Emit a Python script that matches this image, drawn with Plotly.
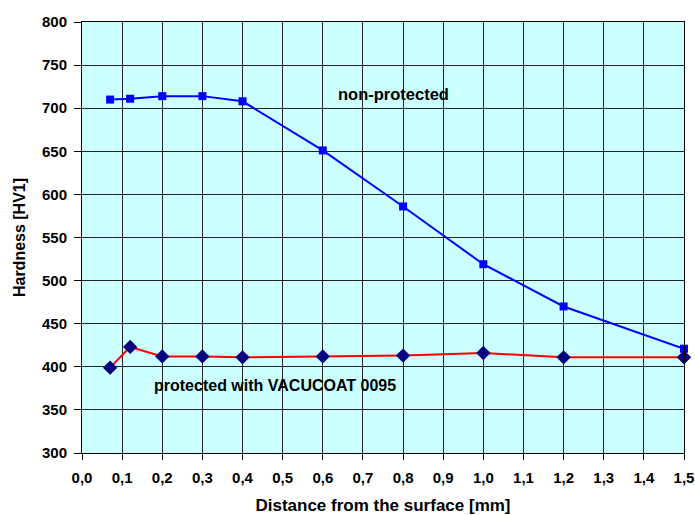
import plotly.graph_objects as go

distance = [0.07, 0.12, 0.2, 0.3, 0.4, 0.6, 0.8, 1.0, 1.2, 1.5]
non_protected = [710, 711, 714, 714, 708, 651, 586, 519, 470, 421]
protected = [399, 423, 412, 412, 411, 412, 413, 416, 411, 411]

x_ticks = [i / 10 for i in range(16)]
x_labels = [f"{v:.1f}".replace(".", ",") for v in x_ticks]
y_ticks = list(range(300, 801, 50))

FONT = "Arial, Liberation Sans, sans-serif"

fig = go.Figure()
fig.add_trace(go.Scatter(
    x=distance, y=non_protected, mode="lines+markers", name="non-protected",
    line=dict(color="#0000FF", width=2),
    marker=dict(symbol="square", size=8, color="#0000FF"),
    cliponaxis=False,
))
fig.add_trace(go.Scatter(
    x=distance, y=protected, mode="lines+markers", name="protected with VACUCOAT 0095",
    line=dict(color="#FF0000", width=2),
    marker=dict(symbol="diamond", size=11, color="#000080"),
    cliponaxis=False,
))

fig.add_annotation(x=0.777, y=716, text="non-protected", showarrow=False,
                   font=dict(family=FONT, size=16.5, color="black", weight="bold"))
fig.add_annotation(x=0.481, y=378, text="protected with VACUCOAT 0095", showarrow=False,
                   font=dict(family=FONT, size=16, color="black", weight="bold"))

fig.update_layout(
    width=695, height=515,
    margin=dict(l=82, r=11, t=22, b=62),
    paper_bgcolor="white", plot_bgcolor="#CCFFFF",
    showlegend=False,
    font=dict(family=FONT, color="black"),
)
fig.update_xaxes(
    range=[0, 1.5], tickvals=x_ticks, ticktext=x_labels,
    showgrid=True, gridcolor="#222222", gridwidth=1,
    showline=True, linecolor="black", linewidth=1, mirror=True,
    ticks="outside", ticklen=6, tickcolor="black", ticklabelstandoff=5,
    tickfont=dict(family=FONT, size=15, weight="bold"),
    title=dict(text="Distance from the surface [mm]", standoff=14,
               font=dict(family=FONT, size=17, weight="bold")),
    zeroline=False, automargin=False,
)
fig.update_yaxes(
    range=[300, 800], tickvals=y_ticks,
    showgrid=True, gridcolor="#222222", gridwidth=1,
    showline=True, linecolor="black", linewidth=1, mirror=True,
    ticks="outside", ticklen=7, tickcolor="black", ticklabelstandoff=4,
    tickfont=dict(family=FONT, size=15, weight="bold"),
    title=dict(text="Hardness [HV1]", standoff=12,
               font=dict(family=FONT, size=16, weight="bold")),
    zeroline=False, automargin=False,
)

fig.write_html(
    "out.html",
    config={"displayModeBar": False},
    post_script="document.body.style.margin='0';document.body.style.overflow='hidden';",
)
